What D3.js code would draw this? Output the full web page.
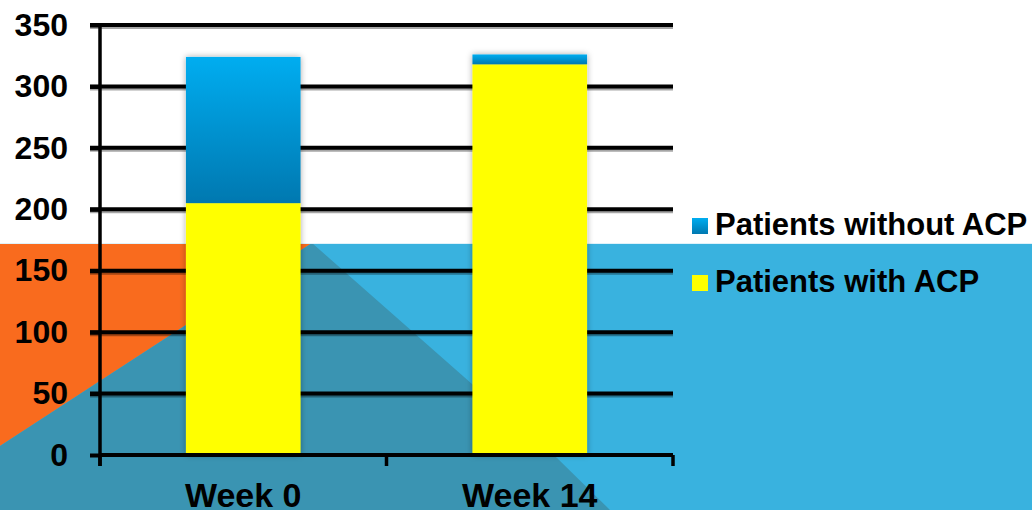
<!DOCTYPE html>
<html>
<head>
<meta charset="utf-8">
<script src="https://cdn.jsdelivr.net/npm/d3@7"></script>
<style>
  html, body { margin: 0; padding: 0; background: #ffffff; }
  svg { display: block; }
  text { font-family: "Liberation Sans", Arial, sans-serif; font-weight: bold; fill: #000; }
</style>
</head>
<body>
<svg id="chart" width="1032" height="510"></svg>
<script>
// ---- data ----
const categories = ["Week 0", "Week 14"];
const seriesNames = ["Patients with ACP", "Patients without ACP"];
const withACP = [205, 318];
const withoutACP = [119, 8];
const yTicks = [0, 50, 100, 150, 200, 250, 300, 350];

const W = 1032, H = 510;
const svg = d3.select("#chart");
const defs = svg.append("defs");

const grad = defs.append("linearGradient").attr("id", "blueGrad")
  .attr("x1", 0).attr("y1", 0).attr("x2", 0).attr("y2", 1);
grad.append("stop").attr("offset", "0%").attr("stop-color", "#00adf0");
grad.append("stop").attr("offset", "100%").attr("stop-color", "#0078b0");

const sh = defs.append("filter").attr("id", "barShadow")
  .attr("x", "-20%").attr("y", "-5%").attr("width", "140%").attr("height", "110%");
sh.append("feDropShadow").attr("dx", 0).attr("dy", 0).attr("stdDeviation", 3)
  .attr("flood-color", "#000").attr("flood-opacity", 0.35);

// ---- decorative background ----
const bg = svg.append("g");
bg.append("rect").attr("x", 0).attr("y", 0).attr("width", W).attr("height", H).attr("fill", "#ffffff");
bg.append("rect").attr("x", 0).attr("y", 243).attr("width", W).attr("height", H - 243).attr("fill", "#39b2df");
bg.append("path").attr("d", "M0,243 L312,243 L0,446 Z").attr("fill", "#f96b1e");
bg.append("path").attr("d", "M0,446 L312,243 L472,384 L557,458 L610,510 L0,510 Z").attr("fill", "#3a94b2");
bg.append("line").attr("x1", 0).attr("x2", W).attr("y1", 243.5).attr("y2", 243.5)
  .attr("stroke", "#dff2fa").attr("stroke-width", 1);

// ---- scales ----
const x = d3.scaleBand().domain(categories).range([100, 673])
  .paddingInner(0.6).paddingOuter(0.3);
const y = d3.scaleLinear().domain([0, 350]).range([455, 25]);

// gridlines (with soft shadow line)
const grid = svg.append("g");
const gl = yTicks.filter(d => d > 0);
grid.selectAll("line.gs").data(gl).join("line").attr("class", "gs")
  .attr("x1", 90).attr("x2", 673)
  .attr("y1", d => y(d) + 1.5).attr("y2", d => y(d) + 1.5)
  .style("stroke", "#000").style("stroke-opacity", 0.35).style("stroke-width", 5);
grid.selectAll("line.g").data(gl).join("line").attr("class", "g")
  .attr("x1", 90).attr("x2", 673)
  .attr("y1", d => y(d)).attr("y2", d => y(d))
  .style("stroke", "#000").style("stroke-width", 4);

// stacked bars
const stackData = categories.map((c, i) => ({ cat: c, with: withACP[i], without: withoutACP[i] }));
const stack = d3.stack().keys(["with", "without"])(stackData);
const fills = { with: "#ffff00", without: "url(#blueGrad)" };

const barsG = svg.append("g");
categories.forEach((c, i) => {
  const g = barsG.append("g").attr("filter", "url(#barShadow)");
  stack.forEach(layer => {
    const seg = layer[i];
    g.append("rect")
      .attr("x", x(c))
      .attr("width", x.bandwidth())
      .attr("y", y(seg[1]))
      .attr("height", y(seg[0]) - y(seg[1]))
      .attr("fill", fills[layer.key]);
  });
});

// y axis
const yAxis = d3.axisLeft(y).tickValues(yTicks).tickSizeInner(10).tickSizeOuter(0).tickPadding(22);
const yg = svg.append("g").attr("transform", "translate(100,0)").call(yAxis);
yg.select(".domain").remove();
yg.selectAll(".tick line").style("stroke", "#000").style("stroke-width", 4);
yg.selectAll(".tick text").style("font-size", "32px").style("font-weight", "bold")
  .style("font-family", "'Liberation Sans', Arial, sans-serif").style("fill", "#000");
yg.append("line").attr("x1", 0).attr("x2", 0).attr("y1", y(350) - 1).attr("y2", y(0) + 11)
  .style("stroke", "#000").style("stroke-width", 3.5);

// x axis
const xAxis = d3.axisBottom(x).tickSize(0).tickPadding(28);
const xg = svg.append("g").attr("transform", `translate(0,${y(0)})`).call(xAxis);
xg.select(".domain").remove();
xg.append("line").attr("x1", x.range()[0]).attr("x2", x.range()[1]).attr("y1", 0).attr("y2", 0)
  .style("stroke", "#000").style("stroke-width", 4);
xg.selectAll(".tick text").style("font-size", "34px").style("font-weight", "bold")
  .style("font-family", "'Liberation Sans', Arial, sans-serif").style("fill", "#000");
const bounds = [x.range()[0]]
  .concat(categories.slice(1).map(c => x(c) - x.step() * x.paddingInner() / 2))
  .concat([x.range()[1]]);
xg.selectAll("line.sep").data(bounds).join("line").attr("class", "sep")
  .attr("x1", d => d).attr("x2", d => d).attr("y1", 0).attr("y2", 11)
  .style("stroke", "#000").style("stroke-width", 3.5);

// legend
const legendItems = [
  { name: seriesNames[1], fill: "url(#blueGrad)" },
  { name: seriesNames[0], fill: "#ffff00" }
];
const lg = svg.append("g");
legendItems.forEach((d, i) => {
  const yy = 218 + i * 57;
  lg.append("rect").attr("x", 692).attr("y", yy).attr("width", 16).attr("height", 16).attr("fill", d.fill);
  lg.append("text").attr("x", 715).attr("y", yy + 17).style("font-size", "31px").text(d.name);
});
</script>
</body>
</html>
